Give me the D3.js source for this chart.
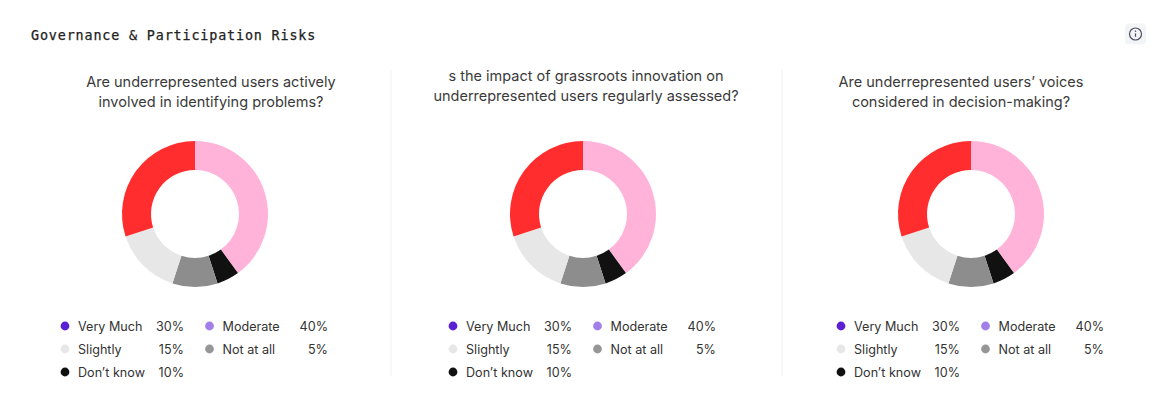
<!DOCTYPE html>
<html>
<head>
<meta charset="utf-8">
<script src="https://cdn.jsdelivr.net/npm/d3@7/dist/d3.min.js"></script>
<style>
  html, body { margin: 0; padding: 0; background: #fff; }
  svg { display: block; }
  text { font-family: "Inter", "Noto Sans", sans-serif; }
</style>
</head>
<body>
<div id="chart"></div>
<script>
// Panel content
const panelTitle = "Governance & Participation Risks";
const questions = [
  ["Are underrepresented users actively", "involved in identifying problems?"],
  ["s the impact of grassroots innovation on", "underrepresented users regularly assessed?"],
  ["Are underrepresented users\u2019 voices", "considered in decision-making?"]
];

// Donut slices, clockwise from twelve o'clock
const sliceValues = [40, 5, 10, 15, 30];
const sliceColors = ["#ffb3d9", "#111111", "#8d8d8d", "#e7e7e7", "#ff2d2d"];

// Legend rows
const legendLabels = ["Very Much", "Moderate", "Slightly", "Not at all", "Don\u2019t know"];
const legendValues = [30, 40, 15, 5, 10];
const legendColors = ["#5b1fd6", "#a17ee8", "#e7e7e7", "#969696", "#111111"];

const width = 1157, height = 408;
const centers = [195, 583, 971];
const questionX = [211, 586, 961];
const questionY = [[87, 107], [81, 100.5], [87, 107]];
const dividers = [391, 782];

const svg = d3.select("#chart").append("svg")
  .attr("width", width).attr("height", height);

svg.append("text")
  .attr("x", 31).attr("y", 40)
  .attr("font-size", 13.4)
  .attr("letter-spacing", 0.85)
  .attr("fill", "#222")
  .attr("stroke", "#222")
  .attr("stroke-width", 0.25)
  .style("font-family", "'DejaVu Sans Mono', monospace")
  .text(panelTitle);

// Info button
const info = svg.append("g").attr("transform", "translate(1135.5,34)");
info.append("rect")
  .attr("x", -10.5).attr("y", -10.5).attr("width", 21).attr("height", 21)
  .attr("rx", 4).attr("fill", "#f3f4f6");
info.append("circle").attr("r", 6).attr("fill", "none")
  .attr("stroke", "#4a4f63").attr("stroke-width", 1.2);
info.append("line").attr("y1", -0.6).attr("y2", 2.8)
  .attr("stroke", "#4a4f63").attr("stroke-width", 1.2);
info.append("circle").attr("cy", -2.7).attr("r", 0.8).attr("fill", "#4a4f63");

svg.selectAll("line.divider").data(dividers).join("line")
  .attr("class", "divider")
  .attr("x1", d => d).attr("x2", d => d)
  .attr("y1", 70).attr("y2", 376)
  .attr("stroke", "#f1f1f1");

const pie = d3.pie().sort(null).value(d => d);
const arc = d3.arc().innerRadius(44).outerRadius(73);

// Legend columns, relative to the donut centre
const legendRows = [326.5, 349.5, 372.5];
const columnX = i => (i % 2 === 0 ? -130 : 14.5);
const valueX = i => (i % 2 === 0 ? -11 : 133);
const labelOffset = 13;

centers.forEach((cx, p) => {
  const group = svg.append("g");

  group.append("g").selectAll("text").data(questions[p]).join("text")
    .attr("x", questionX[p])
    .attr("y", (d, i) => questionY[p][i])
    .attr("text-anchor", "middle")
    .attr("font-size", 14.5)
    .attr("fill", "#3a3a3a")
    .text(d => d);

  group.append("g").attr("transform", `translate(${cx},214)`)
    .selectAll("path").data(pie(sliceValues)).join("path")
    .attr("d", arc)
    .attr("fill", (d, i) => sliceColors[i]);

  const rows = group.append("g").selectAll("g").data(legendLabels).join("g")
    .attr("transform", (d, i) => `translate(${cx},${legendRows[Math.floor(i / 2)]})`);

  rows.append("circle")
    .attr("cx", (d, i) => columnX(i))
    .attr("cy", -0.5)
    .attr("r", 4.4)
    .attr("fill", (d, i) => legendColors[i]);

  rows.append("text")
    .attr("x", (d, i) => columnX(i) + labelOffset)
    .attr("dy", "0.35em")
    .attr("font-size", 12.6)
    .attr("fill", "#333")
    .text(d => d);

  rows.append("text")
    .attr("x", (d, i) => valueX(i))
    .attr("dy", "0.35em")
    .attr("text-anchor", "end")
    .attr("font-size", 12.6)
    .attr("fill", "#333")
    .text((d, i) => legendValues[i] + "%");
});
</script>
</body>
</html>
